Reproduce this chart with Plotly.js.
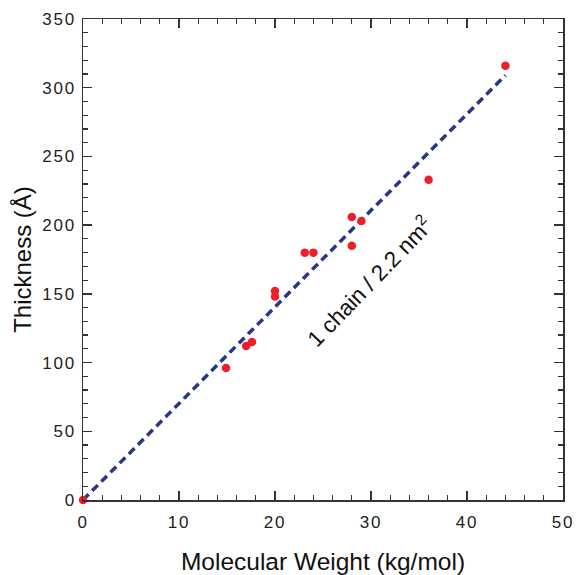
<!DOCTYPE html>
<html>
<head>
<meta charset="utf-8">
<script src="https://cdn.plot.ly/plotly-3.0.1.min.js"></script>
<style>
html,body{margin:0;padding:0;background:#fff;}
#chart{width:578px;height:575px;}
.xtick text,.ytick text{letter-spacing:1.8px;}
</style>
</head>
<body>
<div id="chart"></div>
<script>
const molWeight = [0, 14.9, 17.0, 17.6, 20.0, 20.0, 23.1, 24.0, 28.0, 29.0, 28.0, 36.0, 44.0];
const thickness = [0, 96, 112, 115, 152, 148, 180, 180, 206, 203, 185, 233, 316];
const fitX = [0, 44];
const fitY = [0, 309];
const annText = '1 chain / 2.2 nm<sup>2</sup>';

const font = 'Liberation Sans, Arial, sans-serif';
const data = [
  {x: fitX, y: fitY, mode: 'lines', line: {color: '#2b3585', width: 3.5, dash: '8px,5px'}, hoverinfo: 'skip'},
  {x: molWeight, y: thickness, mode: 'markers', marker: {color: '#ee1f2a', size: 8.5}, cliponaxis: false}
];
const axisCommon = {
  showgrid: false, zeroline: false, showline: true, linecolor: '#333', linewidth: 1.5,
  mirror: 'ticks', ticks: 'inside', tickcolor: '#333', tickwidth: 1.3, ticklen: 9,
  tickfont: {family: font, size: 17, color: '#222'}
};
const layout = {
  width: 578, height: 575,
  margin: {l: 83, r: 15, t: 19, b: 75},
  showlegend: false,
  paper_bgcolor: '#fff', plot_bgcolor: '#fff',
  xaxis: Object.assign({}, axisCommon, {
    range: [0, 50], dtick: 10, tick0: 0, ticklabelstandoff: 6,
    minor: {dtick: 2, ticks: 'inside', ticklen: 5, tickcolor: '#333', tickwidth: 1.2},
    title: {text: 'Molecular Weight (kg/mol)', font: {family: font, size: 24.5, color: '#111'}, standoff: 28}
  }),
  yaxis: Object.assign({}, axisCommon, {
    range: [0, 350], dtick: 50, tick0: 0, ticklabelstandoff: 2,
    minor: {dtick: 10, ticks: 'inside', ticklen: 5, tickcolor: '#333', tickwidth: 1.2},
    title: {text: 'Thickness (Å)', font: {family: font, size: 24, color: '#111'}, standoff: 4}
  }),
  annotations: [{
    x: 29.8, y: 159, xref: 'x', yref: 'y', text: annText, showarrow: false,
    textangle: -46, font: {family: font, size: 22.5, color: '#111'}
  }]
};
Plotly.newPlot('chart', data, layout, {displayModeBar: false, staticPlot: true});
</script>
</body>
</html>
